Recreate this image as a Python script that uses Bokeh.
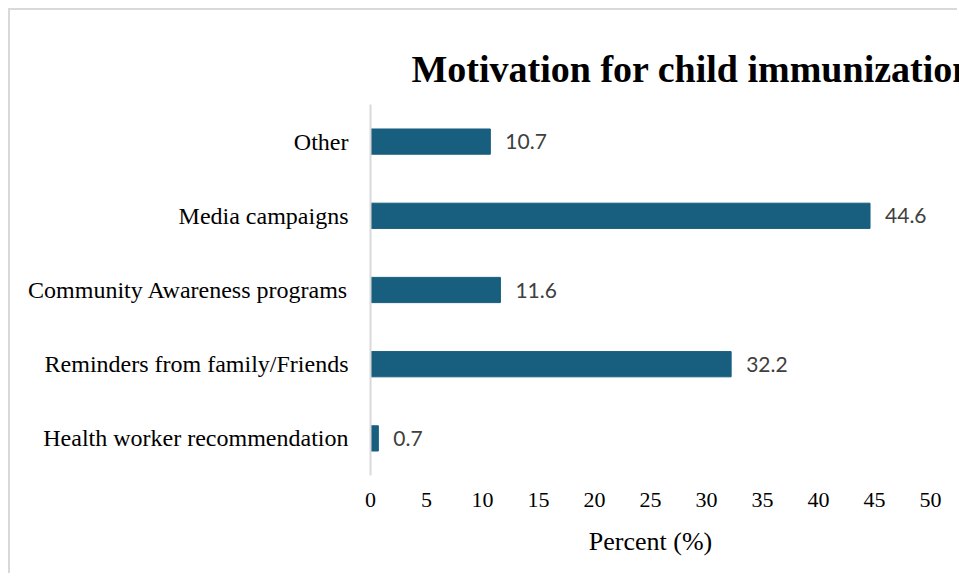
from bokeh.plotting import figure
from bokeh.models import ColumnDataSource, FixedTicker, Range1d, FactorRange, Title
from bokeh.core.properties import value
from bokeh.embed import file_html
from bokeh.resources import INLINE

categories = ["Health worker recommendation", "Reminders from family/Friends",
              "Community Awareness programs", "Media campaigns", "Other"]
percent = [0.7, 32.2, 11.6, 44.6, 10.7]
x_ticks = [0, 5, 10, 15, 20, 25, 30, 35, 40, 45, 50]
title_text = "Motivation for child immunization"
x_label = "Percent (%)"

labels = [f"{v:.1f}" for v in percent]
src = ColumnDataSource(data=dict(cat=categories, val=percent, lab=labels))

p = figure(width=949, height=565, y_range=FactorRange(*categories), x_range=Range1d(0, 50),
           output_backend="svg", toolbar_location=None,
           min_border_left=360, min_border_right=29, min_border_top=94, min_border_bottom=100)
p.styles = {"margin-left": "10px", "margin-top": "10px", "overflow": "hidden",
            "box-shadow": "-2px -2px 0px 0px #d9d9d9"}

p.hbar(y="cat", right="val", left=0, height=0.34, source=src, color="#175E7F")
p.text(x="val", y="cat", text="lab", source=src, x_offset=15, text_baseline="middle",
       text_font=value("Lato"), text_font_size="21px", text_color="#404040")

p.xgrid.visible = False
p.ygrid.visible = False
p.outline_line_color = None
p.background_fill_color = "white"
p.border_fill_color = "white"

xa = p.xaxis[0]
xa.ticker = FixedTicker(ticks=x_ticks)
xa.axis_line_color = None
xa.major_tick_line_color = None
xa.minor_tick_line_color = None
xa.major_tick_out = 0
xa.major_tick_in = 0
xa.major_label_standoff = 17
xa.major_label_text_font = "Liberation Serif"
xa.major_label_text_font_size = "22px"
xa.major_label_text_color = "#000000"
xa.axis_label = x_label
xa.axis_label_text_font = "Liberation Serif"
xa.axis_label_text_font_size = "26px"
xa.axis_label_text_font_style = "normal"
xa.axis_label_text_color = "#000000"
xa.axis_label_standoff = 17

ya = p.yaxis[0]
ya.axis_line_color = "#d9d9d9"
ya.axis_line_width = 2
ya.major_tick_line_color = None
ya.minor_tick_line_color = None
ya.major_tick_out = 0
ya.major_tick_in = 0
ya.major_label_standoff = 22
ya.major_label_text_font = "Liberation Serif"
ya.major_label_text_font_size = "24px"
ya.major_label_text_color = "#000000"

p.add_layout(Title(text=title_text, text_font="Liberation Serif", text_font_size="38px",
                   text_font_style="bold", text_color="#000000", align="left",
                   offset=41, standoff=30), "above")

open("out.html", "w").write(file_html(p, INLINE))
